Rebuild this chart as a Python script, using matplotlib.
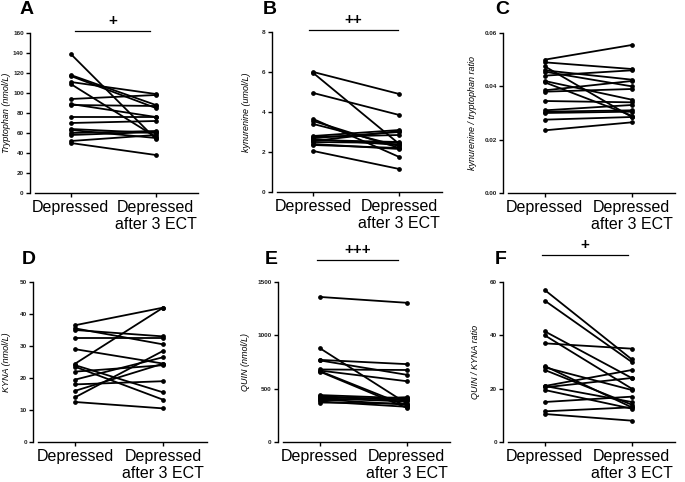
import matplotlib
matplotlib.use("Agg")
import matplotlib.pyplot as plt

plt.rcParams['font.family'] = ['Liberation Sans', 'DejaVu Sans']

categories = ["Depressed", "Depressed\nafter 3 ECT"]

# Panel A: Tryptophan (nmol/L)
trp_before = [139, 118, 117, 111, 109, 94, 89, 88, 76, 70, 64, 63, 60, 58, 52, 50]
trp_after = [54, 88, 85, 99, 56, 98, 76, 87, 76, 72, 60, 55, 62, 61, 58, 38]

# Panel B: kynurenine (umol/L)
kyn_before = [6.0, 5.95, 4.95, 3.65, 3.55, 3.4, 2.8, 2.75, 2.7, 2.65, 2.6, 2.55, 2.5, 2.4, 2.35, 2.05]
kyn_after = [4.9, 2.4, 3.85, 1.75, 2.2, 2.3, 3.1, 2.85, 3.0, 2.35, 2.5, 3.05, 2.45, 2.15, 2.2, 1.15]

# Panel C: kynurenine / tryptophan ratio
ratio_kt_before = [0.050, 0.049, 0.0475, 0.046, 0.0455, 0.044, 0.042, 0.0415, 0.0385, 0.038, 0.0345, 0.031, 0.0305, 0.030, 0.0275, 0.0235]
ratio_kt_after = [0.0555, 0.0465, 0.0285, 0.0425, 0.040, 0.046, 0.035, 0.029, 0.042, 0.039, 0.034, 0.033, 0.031, 0.0305, 0.0285, 0.0265]

# Panel D: KYNA (nmol/L)
kyna_before = [36.5, 35.5, 35.0, 32.5, 29.0, 24.5, 24.0, 23.5, 22.0, 19.5, 18.0, 16.0, 14.0, 12.5]
kyna_after = [42.0, 30.5, 33.0, 32.5, 24.5, 42.0, 15.5, 13.2, 24.0, 26.5, 19.0, 24.5, 28.5, 10.5]

# Panel E: QUIN (nmol/L)
quin_before = [1360, 880, 770, 765, 680, 670, 665, 660, 440, 430, 420, 410, 400, 390, 380, 370]
quin_after = [1305, 360, 730, 630, 675, 570, 340, 320, 410, 390, 400, 380, 350, 420, 330, 360]

# Panel F: QUIN / KYNA ratio
qk_before = [57, 53, 41.5, 40, 37, 28.5, 28, 27, 21, 21, 20.5, 19.5, 15, 11.5, 10.5]
qk_after = [31, 30, 24, 20, 35, 13, 19.5, 14, 27, 15, 24, 12.5, 17, 13, 8]

panels = [
    ("A", trp_before, trp_after, "Tryptophan (nmol/L)", [0, 20, 40, 60, 80, 100, 120, 140, 160], (0, 160), "+"),
    ("B", kyn_before, kyn_after, "kynurenine (umol/L)", [0, 2, 4, 6, 8], (0, 8), "++"),
    ("C", ratio_kt_before, ratio_kt_after, "kynurenine / tryptophan ratio", [0.0, 0.02, 0.04, 0.06], (0, 0.06), None),
    ("D", kyna_before, kyna_after, "KYNA (nmol/L)", [0, 10, 20, 30, 40, 50], (0, 50), None),
    ("E", quin_before, quin_after, "QUIN (nmol/L)", [0, 500, 1000, 1500], (0, 1500), "+++"),
    ("F", qk_before, qk_after, "QUIN / KYNA ratio", [0, 20, 40, 60], (0, 60), "+"),
]

tick_fmt = {
    "A": lambda v: f"{v:d}",
    "B": lambda v: f"{v:d}",
    "C": lambda v: f"{v:.2f}",
    "D": lambda v: f"{v:d}",
    "E": lambda v: f"{v:d}",
    "F": lambda v: f"{v:d}",
}

W, H = 685, 482
fig = plt.figure(figsize=(W / 100, H / 100), dpi=100)

# (left px of y-axis, top px, bottom px, category spacing px)
geom = {
    "A": (30, 33, 193, 85),
    "B": (272, 32, 192, 86),
    "C": (503, 33, 193, 87),
    "D": (33, 282, 442, 88),
    "E": (278, 282, 442, 87),
    "F": (503, 282, 442, 87),
}
letter_pos = {"A": (20, 10), "B": (263, 10), "C": (495, 10),
              "D": (22, 260), "E": (265, 260), "F": (495, 260)}
sig_pos = {"A": (75, 150, 31), "B": (309, 398, 30), "E": (317, 398, 260), "F": (542, 628, 255)}
ylabel_off = {"A": 19, "B": 21, "C": 26, "D": 22, "E": 28, "F": 23}

for letter, before, after, ylabel, yticks, ylim, sig in panels:
    lx, top, bot, sp = geom[letter]
    xmin, xmax = -0.48, 1.55
    width_px = (xmax - xmin) * sp
    ax = fig.add_axes([lx / W, 1 - bot / H, width_px / W, (bot - top) / H])
    for b, a in zip(before, after):
        ax.plot([0, 1], [b, a], color="black", lw=1.3, marker="o", ms=2.4,
                solid_capstyle="round")
    ax.set_xlim(xmin, xmax)
    ax.set_ylim(*ylim)
    ax.spines["top"].set_visible(False)
    ax.spines["right"].set_visible(False)
    ax.spines["left"].set_linewidth(1.0)
    ax.spines["bottom"].set_linewidth(1.0)
    ax.spines["bottom"].set_bounds(-0.42, 1.5)
    ax.set_yticks(yticks)
    ax.set_yticklabels([tick_fmt[letter](v) for v in yticks], fontsize=4.6,
                       fontweight="bold", color="#222222")
    ax.set_xticks([0, 1])
    ax.set_xticklabels(categories, fontsize=11.5)
    ax.tick_params(axis="y", length=3, width=1.0, pad=1.5)
    ax.tick_params(axis="x", length=3, width=1.0, pad=2)
    ax.set_ylabel(ylabel, fontsize=6.5, style="italic")
    ax.yaxis.set_label_coords(-ylabel_off[letter] / width_px, 0.5)

    fx, fy = letter_pos[letter]
    fig.text(fx / W, 1 - fy / H, letter, fontsize=14, fontweight="bold",
             ha="left", va="center")
    if sig:
        x0, x1, y = sig_pos[letter]
        fig.add_artist(plt.Line2D([x0 / W, x1 / W], [1 - y / H, 1 - y / H],
                                  color="black", lw=0.9))
        fig.text((x0 + x1) / 2 / W, 1 - (y - 10) / H, sig, fontsize=11,
                 fontweight="bold", ha="center", va="center")

fig.savefig("out.png", dpi=100)
